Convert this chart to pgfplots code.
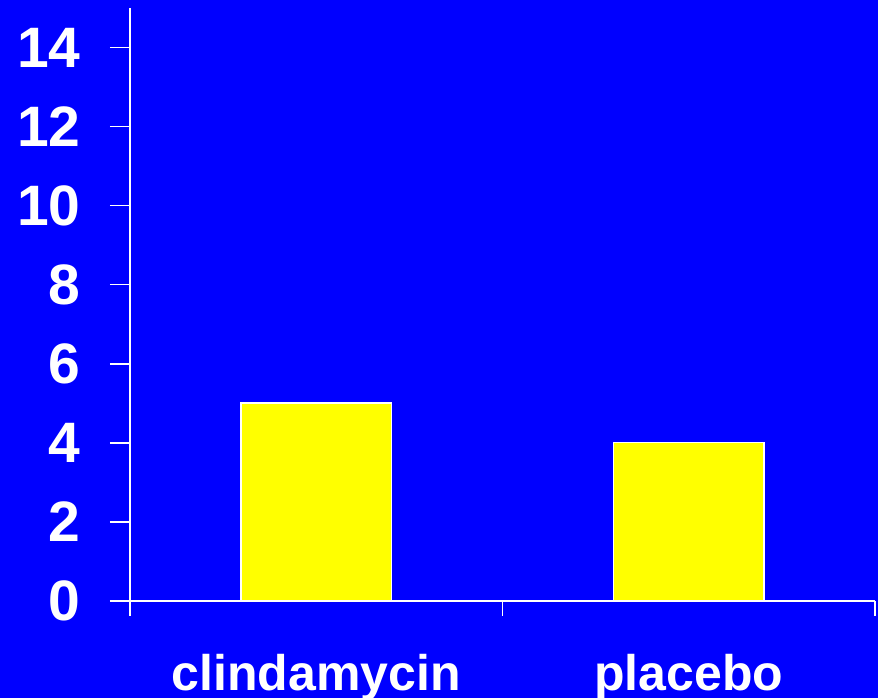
\documentclass[border=0pt]{standalone}
\usepackage{pgfplots}
\pgfplotsset{compat=1.18}
\usepackage{fontspec}
\setmainfont{Liberation Sans}

\definecolor{bgblue}{RGB}{0,0,255}
\definecolor{baryellow}{RGB}{255,255,0}

\begin{document}
\begin{tikzpicture}
% background, also sets the page size (1 px = 0.5pt)
\fill[bgblue] (-65pt,-48.65pt) rectangle (374pt,300.35pt);
\useasboundingbox (-65pt,-48.65pt) rectangle (374pt,300.35pt);
\begin{axis}[
    at={(0,0)}, anchor=south west,
    scale only axis,
    width=372.5pt, height=296.35pt,
    xmin=0, xmax=2,
    ymin=0, ymax=15,
    axis x line*=bottom,
    axis y line*=left,
    axis line style={white, line width=0.9pt},
    tick style={white, line width=0.9pt},
    tick align=outside,
    major tick length=10pt,
    x tick style={/pgfplots/major tick length=7.5pt},
    xtick={0,1,2},
    xticklabels={},
    ytick={0,2,...,14},
    extra x ticks={0.5,1.5},
    extra x tick labels={clindamycin,placebo},
    extra x tick style={
        major tick length=0pt,
        tick style={draw=none},
        xticklabel style={anchor=base, yshift=-44.7pt, inner sep=0pt,
            font=\fontsize{25}{30}\selectfont\bfseries},
    },
    yticklabel style={anchor=east, inner sep=0pt, xshift=-14.5pt,
        font=\fontsize{28.5}{34}\selectfont\bfseries},
    ticklabel style={text=white},
    /pgf/number format/assume math mode=true,
    clip=false,
]
\addplot[ybar, bar width=0.405, fill=baryellow, draw=white, line width=0.75pt]
    coordinates {(0.5,5) (1.5,4)};
\end{axis}
\end{tikzpicture}
\end{document}
